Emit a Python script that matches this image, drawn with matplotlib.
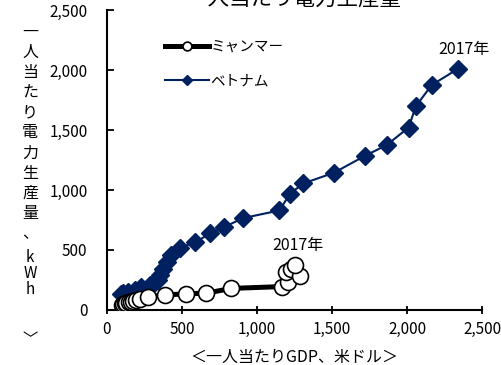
import matplotlib
matplotlib.use("Agg")
import matplotlib.pyplot as plt

plt.rcParams['font.family'] = ['Noto Sans CJK JP', 'DejaVu Sans']

# Myanmar: GDP per capita (USD) vs electricity production per capita (kWh)
mm_gdp = [100, 110, 120, 130, 145, 160, 175, 195, 220, 275, 385, 525, 660, 830,
          1165, 1210, 1195, 1230, 1285, 1255]
mm_kwh = [45, 50, 55, 60, 65, 70, 78, 85, 90, 110, 125, 135, 140, 180,
          195, 235, 320, 345, 280, 375]

# Vietnam
vn_gdp = [95, 110, 140, 185, 230, 290, 320, 340, 355, 375, 398, 430, 487, 590,
          690, 780, 905, 1150, 1220, 1310, 1515, 1720, 1865, 2010, 2060, 2165, 2340]
vn_kwh = [130, 140, 150, 170, 190, 210, 230, 250, 290, 345, 400, 455, 520, 565,
          640, 690, 765, 830, 970, 1055, 1145, 1285, 1375, 1520, 1700, 1875, 2010]

navy = '#002060'

fig = plt.figure(figsize=(5.02, 3.65), dpi=100)
ax = fig.add_axes([0.2131, 0.1507, 0.7471, 0.8219])

ax.plot(mm_gdp, mm_kwh, color='black', lw=3.6, marker='o', ms=11.5,
        mfc='white', mec='black', mew=1.2, label='ミャンマー', zorder=3)
ax.plot(vn_gdp, vn_kwh, color=navy, lw=1.5, marker='D', ms=9,
        mfc=navy, mec=navy, label='ベトナム', zorder=2)

ax.set_xlim(0, 2500)
ax.set_ylim(0, 2500)
ax.set_xticks(range(0, 2501, 500))
ax.set_yticks(range(0, 2501, 500))
ax.xaxis.set_major_formatter(matplotlib.ticker.StrMethodFormatter('{x:,.0f}'))
ax.yaxis.set_major_formatter(matplotlib.ticker.StrMethodFormatter('{x:,.0f}'))
ax.tick_params(axis='x', direction='inout', length=6, width=1.3, labelsize=11, pad=5)
ax.tick_params(axis='y', direction='in', length=5, width=1.3, labelsize=11, pad=14)
for s in ['top', 'right']:
    ax.spines[s].set_visible(False)
for s in ['left', 'bottom']:
    ax.spines[s].set_linewidth(1.5)

ax.set_xlabel('＜一人当たりGDP、米ドル＞', fontsize=11.5, labelpad=8)

leg = ax.legend(loc='upper left', bbox_to_anchor=(0.12, 0.945), frameon=False,
                fontsize=10.5, markerscale=0.55, labelspacing=1.4,
                handlelength=3.0, handletextpad=0.1)

ax.annotate('2017年', (vn_gdp[-1], vn_kwh[-1]), xytext=(4, 11),
            textcoords='offset points', ha='center', fontsize=11.5)
ax.annotate('2017年', (mm_gdp[-1], mm_kwh[-1]), xytext=(2, 11),
            textcoords='offset points', ha='center', fontsize=11.5)

# vertical y label
ylab = '一人当たり電力生産量、'
y0 = 32
for i, ch in enumerate(ylab):
    fig.text(30 / 502, 1 - (y0 + i * 20.2) / 365, ch, ha='center', va='center', fontsize=11.5)
for ch, yp in [('k', 257), ('W', 273), ('h', 290), ('﹀', 340)]:
    fig.text(30 / 502, 1 - yp / 365, ch, ha='center', va='center', fontsize=11)

# title, top cut off
fig.text(294 / 502, 1 - 5 / 365, '一人当たり電力生産量', ha='center', va='baseline', fontsize=15.5)

fig.savefig('out.png', dpi=100)
